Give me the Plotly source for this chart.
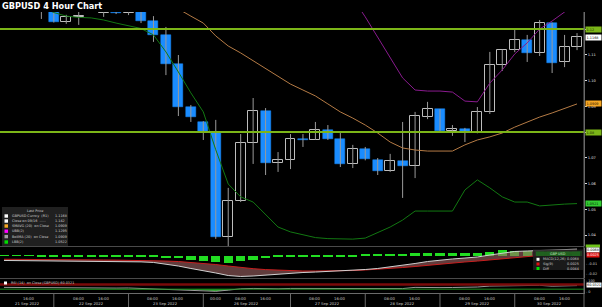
import plotly.graph_objects as go

# ---------------- data ----------------
title_text = "GBPUSD 4 Hour Chart"
candle_idx = list(range(47))
opens = [1.1410, 1.1395, 1.1420, 1.1360, 1.1295, 1.1227, 1.1247, 1.1268, 1.1262, 1.1290,
         1.1262, 1.1275, 1.1231, 1.1177, 1.1064, 1.0897, 1.0839, 1.0800, 1.0392, 1.0532,
         1.0757, 1.0882, 1.0680, 1.0691, 1.0773, 1.0769, 1.0808, 1.0773, 1.0676, 1.0734,
         1.0691, 1.0649, 1.0687, 1.0668, 1.0858, 1.0889, 1.0804, 1.0812, 1.0800, 1.0878,
         1.1060, 1.1118, 1.1157, 1.1107, 1.1223, 1.1072, 1.1130]
highs = [1.1430, 1.1440, 1.1460, 1.1385, 1.1310, 1.1255, 1.1275, 1.1300, 1.1300, 1.1300,
         1.1290, 1.1290, 1.1250, 1.1208, 1.1099, 1.0905, 1.0842, 1.0847, 1.0583, 1.0792,
         1.0932, 1.0893, 1.0722, 1.0792, 1.0792, 1.0839, 1.0827, 1.0796, 1.0750, 1.0742,
         1.0699, 1.0715, 1.0839, 1.0878, 1.0917, 1.0889, 1.0827, 1.0816, 1.0897, 1.1111,
         1.1120, 1.1200, 1.1177, 1.1235, 1.1225, 1.1177, 1.1184]
lows = [1.1380, 1.1385, 1.1330, 1.1239, 1.1225, 1.1220, 1.1216, 1.1266, 1.1247, 1.1258,
        1.1254, 1.1223, 1.1150, 1.1021, 1.0862, 1.0839, 1.0769, 1.0385, 1.0345, 1.0528,
        1.0676, 1.0633, 1.0645, 1.0656, 1.0742, 1.0769, 1.0769, 1.0664, 1.0660, 1.0690,
        1.0633, 1.0645, 1.0544, 1.0621, 1.0850, 1.0800, 1.0785, 1.0761, 1.0795, 1.0870,
        1.1037, 1.1110, 1.1072, 1.1095, 1.1029, 1.1052, 1.1118]
closes = [1.1395, 1.1420, 1.1360, 1.1285, 1.1227, 1.1247, 1.1250, 1.1290, 1.1285, 1.1262,
          1.1275, 1.1231, 1.1177, 1.1064, 1.0897, 1.0858, 1.0800, 1.0392, 1.0532, 1.0757,
          1.0882, 1.0680, 1.0691, 1.0773, 1.0769, 1.0808, 1.0773, 1.0676, 1.0734, 1.0695,
          1.0649, 1.0687, 1.0668, 1.0862, 1.0889, 1.0804, 1.0812, 1.0800, 1.0878, 1.1060,
          1.1118, 1.1157, 1.1107, 1.1223, 1.1068, 1.1130, 1.1168]
sma20 = [1.1420, 1.1415, 1.1410, 1.1405, 1.1398, 1.1390, 1.1382, 1.1375, 1.1365, 1.1355,
         1.1345, 1.1335, 1.1320, 1.1300, 1.1278, 1.1250, 1.1223, 1.1173, 1.1134, 1.1107,
         1.1076, 1.1045, 1.1014, 1.0986, 1.0963, 1.0940, 1.0909, 1.0878, 1.0854, 1.0827,
         1.0796, 1.0761, 1.0738, 1.0730, 1.0726, 1.0726, 1.0726, 1.0750, 1.0769, 1.0781,
         1.0796, 1.0819, 1.0839, 1.0858, 1.0874, 1.0893, 1.0909]
ubb = [1.1480, 1.1475, 1.1470, 1.1465, 1.1460, 1.1455, 1.1450, 1.1445, 1.1440, 1.1435,
       1.1430, 1.1425, 1.1420, 1.1430, 1.1460, 1.1490, 1.1520, 1.1600, 1.1650, 1.1660,
       1.1650, 1.1640, 1.1600, 1.1560, 1.1520, 1.1480, 1.1430, 1.1380, 1.1320, 1.1247,
       1.1169, 1.1087, 1.1010, 1.0963, 1.0959, 1.0959, 1.0955, 1.0920, 1.0917, 1.0990,
       1.1041, 1.1103, 1.1146, 1.1200, 1.1231, 1.1266, 1.1295]
lbb = [1.1330, 1.1320, 1.1305, 1.1285, 1.1264, 1.1250, 1.1245, 1.1243, 1.1235, 1.1223,
       1.1212, 1.1202, 1.1177, 1.1111, 1.1033, 1.0952, 1.0878, 1.0731, 1.0598, 1.0548,
       1.0528, 1.0478, 1.0431, 1.0412, 1.0400, 1.0390, 1.0386, 1.0384, 1.0384, 1.0388,
       1.0408, 1.0431, 1.0458, 1.0493, 1.0493, 1.0493, 1.0493, 1.0575, 1.0614, 1.0583,
       1.0548, 1.0528, 1.0528, 1.0513, 1.0517, 1.0520, 1.0522]
level_lines = [1.12, 1.08]
macd_line = [-0.0053, -0.0054, -0.0056, -0.0059, -0.0060, -0.0061, -0.0062, -0.0063, -0.0064, -0.0065,
             -0.0066, -0.0068, -0.0074, -0.0090, -0.0112, -0.0138, -0.0160, -0.0186, -0.0213, -0.0223,
             -0.0218, -0.0207, -0.0197, -0.0186, -0.0181, -0.0176, -0.0170, -0.0165, -0.0160, -0.0149,
             -0.0138, -0.0122, -0.0106, -0.0085, -0.0064, -0.0048, -0.0037, -0.0027, -0.0016, 0.0005,
             0.0027, 0.0043, 0.0048, 0.0053, 0.0059, 0.0064, 0.0068]
macd_signal = [-0.0040, -0.0040, -0.0042, -0.0043, -0.0044, -0.0045, -0.0046, -0.0047, -0.0048, -0.0049,
               -0.0050, -0.0051, -0.0053, -0.0059, -0.0064, -0.0072, -0.0082, -0.0096, -0.0112, -0.0128,
               -0.0140, -0.0150, -0.0157, -0.0163, -0.0165, -0.0165, -0.0165, -0.0163, -0.0160, -0.0154,
               -0.0147, -0.0138, -0.0128, -0.0117, -0.0104, -0.0090, -0.0080, -0.0069, -0.0059, -0.0046,
               -0.0032, -0.0019, -0.0009, 0.0000, 0.0007, 0.0016, 0.0025]
macd_diff = [-0.0005, -0.0005, -0.0005, -0.0015, -0.0015, -0.0015, -0.0015, -0.0015, -0.0015, -0.0015,
             -0.0015, -0.0015, -0.0018, -0.0022, -0.0030, -0.0045, -0.0055, -0.0068, -0.0075, -0.0058,
             -0.0045, -0.0030, -0.0020, -0.0016, -0.0012, -0.0010, -0.0009, -0.0008, -0.0007, 0.0008,
             0.0010, 0.0012, 0.0014, 0.0022, 0.0024, 0.0024, 0.0025, 0.0026, 0.0028, 0.0040,
             0.0055, 0.0052, 0.0045, 0.0045, 0.0045, 0.0044, 0.0044]
rsi14 = [45, 44, 42, 40, 38, 40, 40, 41, 40, 39,
         40, 36, 32, 30, 27, 26, 22, 12, 22, 33,
         36, 32, 33, 36, 36, 38, 37, 33, 36, 35,
         33, 36, 35, 45, 47, 43, 44, 43, 48, 56,
         58, 60, 57, 62, 55, 58, 60.03]
rsi_levels = [70, 30]
time_tick_idx = [2, 6, 8, 12, 14, 17, 19, 21, 25, 27, 31, 33, 37, 39, 43, 45]
time_tick_text = ["16:00", "08:00", "16:00", "08:00", "16:00", "00:00", "08:00", "16:00",
                  "08:00", "16:00", "08:00", "16:00", "08:00", "16:00", "08:00", "16:00"]
date_idx = [1.9, 7, 13, 19.5, 26, 32, 38, 43.8]
date_text = ["21 Sep 2022", "22 Sep 2022", "23 Sep 2022", "26 Sep 2022",
             "27 Sep 2022", "28 Sep 2022", "29 Sep 2022", "30 Sep 2022"]
day_sep_idx = [4, 10, 16, 23, 29, 35, 41]
legend_colors = ["#ffffff", "#ffffff", "#f5a623", "#ff00ff", "#a0a0a0", "#00e000"]
legend_labels = ["GBPUSD Curncy  (R1)", "Close on 09/16  -----", "SMAVG (20)  on Close",
                 "UBB(2)", "BollMA (20)  on Close", "LBB(2)"]
legend_values = ["1.1168", "1.142", "1.0909", "1.1295", "1.0909", "1.0522"]
macd_legend_colors = ["#ffffff", "#e01010", "#00e000"]
macd_legend_labels = ["MACD(12,26)", "Sig(9)", "Diff"]
macd_legend_values = ["0.0068", "0.0025", "0.0044"]
rsi_label = "RSI (14)  on Close (GBPUSD) 60.0321"

# ---------------- geometry ----------------
W, H = 602, 307
ML, MR, MT, MB = 0, 18, 12, 14
PW, PH = W - ML - MR, H - MT - MB
FONT = "DejaVu Sans"


def yp(pix):
    return (H - MB - pix) / PH


def xp(pix):
    return (pix - ML) / PW


fig = go.Figure()

# wicks
wx, wy = [], []
for i in candle_idx:
    wx += [i, i, None]
    wy += [lows[i], highs[i], None]
fig.add_trace(go.Scatter(x=wx, y=wy, mode="lines", line=dict(color="#9a9a9a", width=1),
                         xaxis="x", yaxis="y", hoverinfo="skip"))

up = [i for i in candle_idx if closes[i] >= opens[i]]
dn = [i for i in candle_idx if closes[i] < opens[i]]
fig.add_trace(go.Bar(x=up, base=[opens[i] for i in up],
                     y=[max(closes[i] - opens[i], 0.00005) for i in up], width=0.8,
                     marker=dict(color="#000000", line=dict(color="#bdbdbd", width=1)),
                     xaxis="x", yaxis="y"))
fig.add_trace(go.Bar(x=dn, base=[closes[i] for i in dn],
                     y=[max(opens[i] - closes[i], 0.00005) for i in dn], width=0.8,
                     marker=dict(color="#1a8cff", line=dict(color="#1a8cff", width=0.5)),
                     xaxis="x", yaxis="y"))

fig.add_trace(go.Scatter(x=candle_idx, y=sma20, mode="lines", line=dict(color="#b57b45", width=1),
                         xaxis="x", yaxis="y"))
fig.add_trace(go.Scatter(x=candle_idx, y=ubb, mode="lines", line=dict(color="#8a1b8f", width=1),
                         xaxis="x", yaxis="y"))
fig.add_trace(go.Scatter(x=candle_idx, y=lbb, mode="lines", line=dict(color="#127812", width=1),
                         xaxis="x", yaxis="y"))

# MACD
fig.add_trace(go.Bar(x=candle_idx, y=macd_diff, width=0.75, marker=dict(color="#22dd22", line=dict(width=0)),
                     xaxis="x", yaxis="y2"))
fig.add_trace(go.Scatter(x=candle_idx, y=macd_signal, mode="lines", line=dict(color="#c81e1e", width=1),
                         xaxis="x", yaxis="y2"))
fig.add_trace(go.Scatter(x=candle_idx, y=macd_line, mode="lines", line=dict(color="#d0d0d0", width=1),
                         fill="tonexty", fillcolor="rgba(160,100,100,0.6)", xaxis="x", yaxis="y2"))

# RSI
fig.add_trace(go.Scatter(x=candle_idx, y=[rsi_levels[1]] * len(candle_idx), mode="lines",
                         line=dict(width=0), xaxis="x", yaxis="y3", hoverinfo="skip"))
fig.add_trace(go.Scatter(x=candle_idx, y=[min(r, rsi_levels[1]) for r in rsi14], mode="lines",
                         line=dict(width=0), fill="tonexty", fillcolor="#22aa22", xaxis="x", yaxis="y3"))
fig.add_trace(go.Scatter(x=candle_idx, y=rsi14, mode="lines", line=dict(color="#9a9a9a", width=1),
                         xaxis="x", yaxis="y3"))

shapes = []
for lv in level_lines:
    shapes.append(dict(type="line", xref="paper", x0=0, x1=1, yref="y", y0=lv, y1=lv,
                       line=dict(color="#7cb518", width=2), layer="above"))
shapes.append(dict(type="line", xref="paper", x0=0, x1=1, yref="y3", y0=rsi_levels[0], y1=rsi_levels[0],
                   line=dict(color="#7a0a0a", width=2.5)))
shapes.append(dict(type="line", xref="paper", x0=0, x1=1, yref="y3", y0=rsi_levels[1], y1=rsi_levels[1],
                   line=dict(color="#1f8f1f", width=1)))
# panel separators
for pix in [246.5, 278.5]:
    shapes.append(dict(type="line", xref="paper", x0=0, x1=1, yref="paper", y0=yp(pix), y1=yp(pix),
                       line=dict(color="#4a4a4a", width=1)))
# day separators in time axis
for s in day_sep_idx:
    shapes.append(dict(type="line", xref="x", x0=s, x1=s, yref="paper", y0=0, y1=yp(307),
                       line=dict(color="#6a6a6a", width=1)))
shapes.append(dict(type="line", xref="paper", x0=1, x1=1, yref="paper", y0=yp(307), y1=1,
                   line=dict(color="#6a6a6a", width=1)))
# legend box
shapes.append(dict(type="rect", xref="paper", yref="paper", x0=xp(2), x1=xp(68), y0=yp(246), y1=yp(207),
                   fillcolor="rgba(34,34,34,0.95)", line=dict(width=0)))
rows_y = [216, 221, 226, 231.2, 236.6, 242]
for k, col in enumerate(legend_colors):
    shapes.append(dict(type="rect", xref="paper", yref="paper", x0=xp(4.5), x1=xp(8), y0=yp(rows_y[k] + 1.7),
                       y1=yp(rows_y[k] - 1.7), fillcolor=col, line=dict(width=0)))
# macd legend box
shapes.append(dict(type="rect", xref="paper", yref="paper", x0=xp(533), x1=xp(583), y0=yp(270), y1=yp(249.5),
                   fillcolor="rgba(30,30,30,0.85)", line=dict(width=0)))
shapes.append(dict(type="rect", xref="paper", yref="paper", x0=xp(536), x1=xp(580), y0=yp(256), y1=yp(251.5),
                   fillcolor="rgba(30,110,30,0.8)", line=dict(width=0)))
mrows = [259.3, 264, 268.5]
for k, col in enumerate(macd_legend_colors):
    shapes.append(dict(type="rect", xref="paper", yref="paper", x0=xp(536.5), x1=xp(539.5), y0=yp(mrows[k] + 1.5),
                       y1=yp(mrows[k] - 1.5), fillcolor=col, line=dict(width=0)))
# rsi label square
shapes.append(dict(type="rect", xref="paper", yref="paper", x0=xp(4), x1=xp(7), y0=yp(284.5), y1=yp(281.5),
                   fillcolor="#ffffff", line=dict(width=0)))
# diff label sliver at top of macd axis
shapes.append(dict(type="rect", xref="paper", yref="paper", x0=1.003, x1=xp(600), y0=yp(247.5), y1=yp(244.5),
                   fillcolor="#6ec21a", line=dict(width=0)))

ann = []


def txt(text, xpix, ypix, size=3.4, color="#d0d0d0", xanchor="left", bg=None):
    d = dict(text=text, x=xp(xpix), y=yp(ypix), xref="paper", yref="paper", xanchor=xanchor,
             yanchor="middle", showarrow=False, font=dict(family=FONT, size=size, color=color), borderpad=0)
    if bg:
        d["bgcolor"] = bg
    return d


ann.append(dict(text="<b>" + title_text + "</b>", x=0, y=1, xref="paper", yref="paper", xanchor="left",
                yanchor="bottom", showarrow=False, yshift=-1.5,
                font=dict(family=FONT, size=8.2, color="#ffffff")))

# right axis value boxes (main)
value_boxes = [(level_lines[0], "1.12", "#7cb518", "#102000"),
               (closes[-1], "1.1168", "#ffffff", "#000000"),
               (sma20[-1], "1.0909", "#f5a623", "#201000"),
               (level_lines[1], "1.08", "#7cb518", "#102000"),
               (lbb[-1], "1.0521", "#33cc33", "#002000")]
for v, t, bg, fc in value_boxes:
    ann.append(dict(text=t, x=1, y=v, xref="paper", yref="y", xanchor="left", yanchor="middle",
                    xshift=1, showarrow=False, bgcolor=bg, borderpad=0.6, width=14, align="left",
                    font=dict(family=FONT, size=3.4, color=fc)))

# legend text
ann.append(txt("Last Price", 35, 211, xanchor="center"))
for k in range(len(legend_labels)):
    ann.append(txt(legend_labels[k], 11, rows_y[k]))
    ann.append(txt(legend_values[k], 54, rows_y[k]))

# macd legend
ann.append(txt("GBP USD", 558, 253.7, xanchor="center", color="#c8e8c8"))
for k in range(3):
    ann.append(txt(macd_legend_labels[k], 542, mrows[k]))
    ann.append(txt(macd_legend_values[k], 580, mrows[k], xanchor="right"))

# macd right labels
ann.append(txt(macd_legend_values[0], 586, 250.3, color="#000000", bg="#ffffff"))
ann.append(txt(macd_legend_values[1], 586, 254.6, color="#ffffff", bg="#e01010"))
ann.append(txt("- -0.01", 585, 264.3, color="#d0d0d0"))
ann.append(txt("- -0.02", 585, 273.7, color="#d0d0d0"))

# rsi
ann.append(txt(rsi_label, 10, 283))
ann.append(txt("- 100", 585, 281, color="#d0d0d0"))
ann.append(txt("60.0321", 586, 285.3, color="#000000", bg="#ffffff"))
ann.append(txt("- 0", 585, 292.3, color="#d0d0d0"))

# time axis
for i, t in zip(time_tick_idx, time_tick_text):
    ann.append(dict(text=t, x=i, y=yp(298.3), xref="x", yref="paper", xanchor="center", yanchor="middle",
                    showarrow=False, font=dict(family=FONT, size=3.8, color="#c8c8c8")))
for i, t in zip(date_idx, date_text):
    ann.append(dict(text=t, x=i, y=yp(303.6), xref="x", yref="paper", xanchor="center", yanchor="middle",
                    showarrow=False, font=dict(family=FONT, size=3.8, color="#c8c8c8")))

fig.update_layout(
    width=W, height=H,
    margin=dict(l=ML, r=MR, t=MT, b=MB, pad=0),
    paper_bgcolor="#000000", plot_bgcolor="#000000",
    showlegend=False, barmode="overlay", bargap=0,
    xaxis=dict(domain=[0, 1], range=[-0.32, 46.56], anchor="y3", showgrid=False, zeroline=False,
               showticklabels=False, ticks="", showline=True, linecolor="#6a6a6a", linewidth=1),
    yaxis=dict(domain=[yp(246), 1], range=[1.03573, 1.12660], anchor="x", side="right",
               showgrid=False, zeroline=False, dtick=0.01, tick0=1.0, tickformat=".2f",
               ticks="outside", ticklen=2, tickcolor="#dddddd", tickwidth=1,
               tickfont=dict(family=FONT, size=3.6, color="#e0e0e0"),
               showline=True, linecolor="#6a6a6a", linewidth=1),
    yaxis2=dict(domain=[yp(278), yp(248)], range=[-0.02394, 0.00798], anchor="x", side="right",
                showgrid=False, zeroline=False, showticklabels=False, showline=True,
                linecolor="#6a6a6a", linewidth=1),
    yaxis3=dict(domain=[0, yp(279)], range=[-2, 115], anchor="x", side="right",
                showgrid=False, zeroline=False, showticklabels=False, showline=True,
                linecolor="#6a6a6a", linewidth=1),
    shapes=shapes, annotations=ann,
)

fig.write_html("out.html")
